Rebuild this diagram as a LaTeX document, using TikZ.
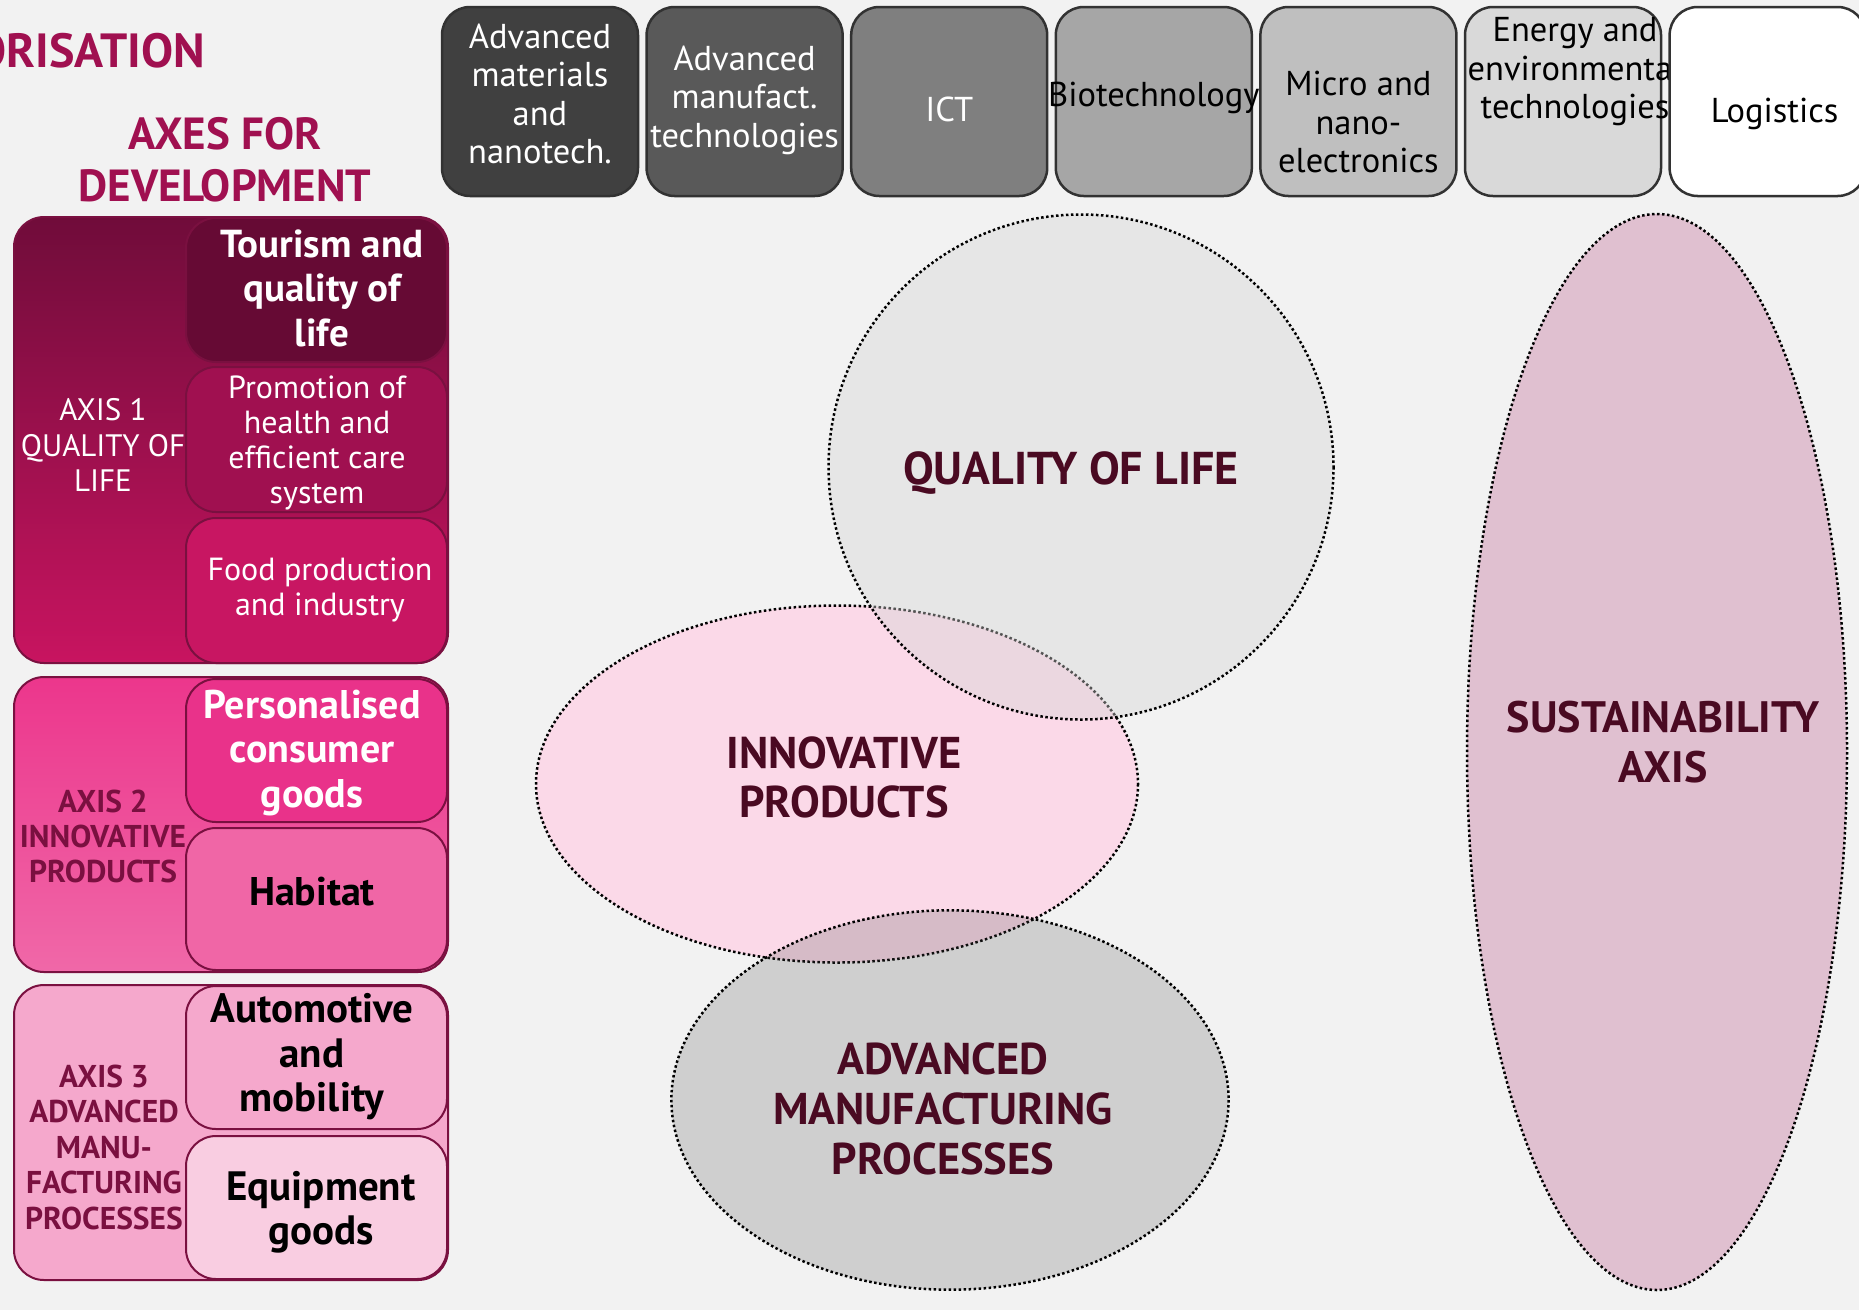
\documentclass[tikz,border=0pt]{standalone}
\usepackage{fontspec}
\setmainfont{PT Sans}

\definecolor{paper}{RGB}{242,242,242}
\definecolor{titleink}{RGB}{160,16,80}
\definecolor{blobink}{RGB}{74,10,34}
\definecolor{techline}{RGB}{50,50,50}
\definecolor{axisline}{RGB}{122,16,64}
\definecolor{axisink}{RGB}{122,16,64}
\definecolor{techA}{RGB}{64,64,64}
\definecolor{techB}{RGB}{89,89,89}
\definecolor{techC}{RGB}{127,127,127}
\definecolor{techD}{RGB}{166,166,166}
\definecolor{techE}{RGB}{191,191,191}
\definecolor{techF}{RGB}{217,217,217}
\definecolor{techG}{RGB}{255,255,255}
\definecolor{tourism}{RGB}{102,10,52}
\definecolor{health}{RGB}{160,16,80}
\definecolor{food}{RGB}{200,22,98}
\definecolor{persona}{RGB}{233,50,138}
\definecolor{habitat}{RGB}{240,102,166}
\definecolor{automot}{RGB}{245,168,204}
\definecolor{equip}{RGB}{249,205,225}
\definecolor{innovfill}{RGB}{251,217,232}
\definecolor{sustfill}{RGB}{224,192,208}

\tikzset{
  techbox/.style={draw=techline, line width=2.5pt, rounded corners=28pt, minimum width=196pt, minimum height=189pt, inner sep=0pt},
  techtext/.style={align=center, inner sep=0pt, font=\fontsize{34.5}{38.5}\selectfont},
  axisbox/.style={draw=axisline, line width=2pt, rounded corners=30pt, minimum width=434pt, inner sep=0pt},
  fieldbox/.style={draw=axisline, line width=2pt, rounded corners=30pt, minimum width=261pt, inner sep=0pt},
  axistext/.style={align=center, inner sep=0pt, font=\fontsize{31}{35.5}\selectfont},
  blob/.style={draw=black, line width=2.5pt, dash pattern=on 2.5pt off 2.5pt},
  blobtext/.style={align=center, inner sep=0pt, text=blobink, font=\bfseries\fontsize{44}{50}\selectfont},
}

\begin{document}
\begin{tikzpicture}[x=1pt,y=1pt,yscale=-1]
    \clip (0,0) rectangle (1859,1310);
    \useasboundingbox (0,0) rectangle (1859,1310);
    \fill [paper] (0,0) rectangle (1859,1310);

    % Title
    \node (title) [anchor=base east, inner sep=0pt, text=titleink, font=\bfseries\fontsize{48}{56}\selectfont] at (205,67) {ORISATION};
    \node (axes) [align=center, inner sep=0pt, text=titleink, font=\bfseries\fontsize{45}{52}\selectfont] at (225,160) {AXES FOR\\DEVELOPMENT};

    %Top row: technologies
    \foreach \i/\shade/\ink/\tx/\ty/\words in {
        0/techA/white/0/94/{Advanced\\materials\\and\\nanotech.},
        1/techB/white/0/100/{Advanced\\manufact.\\technologies},
        2/techC/white/0/109/{ICT},
        3/techD/black/0/98/{Biotechnology},
        4/techE/black/0/122/{Micro and\\nano-\\electronics},
        5/techF/black/12/72/{Energy and\\environmental\\technologies},
        6/techG/black/7/114/{Logistics}} {
      \node (tech\i) [techbox, fill=\shade] at (540+\i*204.6,101.5) {};
      \node (techtxt\i) [techtext, text=\ink] at (540+\i*204.6+\tx,\ty) {\words};
    }

    %Axis 1
    \node (axis1) [axisbox, minimum height=446pt, top color={rgb,255:red,112;green,12;blue,58}, bottom color={rgb,255:red,200;green,20;blue,96}] at (231,440) {};
    \node (tour) [fieldbox, fill=tourism, minimum height=144pt] at (316.5,290) {};
    \node (heal) [fieldbox, fill=health, minimum height=145pt] at (316.5,439.5) {};
    \node (food) [fieldbox, fill=food, minimum height=145pt] at (316.5,590.5) {};
    \node (axis1txt) [axistext, text=white] at (103,445) {AXIS 1\\QUALITY OF\\LIFE};
    \node (tourtxt) [align=center, inner sep=0pt, text=white, font=\bfseries\fontsize{39}{44.5}\selectfont] at (322,288) {Tourism and\\quality of\\life};
    \node (healtxt) [align=center, inner sep=0pt, text=white, font=\fontsize{32}{35}\selectfont] at (317,443) {Promotion of\\health and\\efficient care\\system};
    \node (foodtxt) [align=center, inner sep=0pt, text=white, font=\fontsize{32}{35}\selectfont] at (320,590) {Food production\\and industry};

    %Axis 2
    \node (axis2) [axisbox, minimum height=295pt, top color={rgb,255:red,236;green,54;blue,140}, bottom color={rgb,255:red,240;green,104;blue,168}] at (231,824.5) {};
    \node (pers) [fieldbox, fill=persona, minimum height=143pt] at (316.5,750.5) {};
    \node (habi) [fieldbox, fill=habitat, minimum height=142pt] at (316.5,899) {};
    \node (axis2txt) [axistext, text=axisink, font=\bfseries\fontsize{31.5}{35}\selectfont] at (103,836) {AXIS 2\\INNOVATIVE\\PRODUCTS};
    \node (perstxt) [align=center, inner sep=0pt, text=white, font=\bfseries\fontsize{40}{44.5}\selectfont] at (312,753) {Personalised\\consumer\\goods};
    \node (habitxt) [inner sep=0pt, font=\bfseries\fontsize{40}{44}\selectfont] at (312,892) {Habitat};

    %Axis 3
    \node (axis3) [axisbox, minimum height=295pt, fill=automot] at (231,1132.5) {};
    \node (auto) [fieldbox, fill=automot, minimum height=143pt] at (316.5,1057.5) {};
    \node (equi) [fieldbox, fill=equip, minimum height=143pt] at (316.5,1207.5) {};
    \node (axis3txt) [axistext, text=axisink, font=\bfseries\fontsize{31.5}{35.5}\selectfont] at (104,1147) {AXIS 3\\ADVANCED\\MANU-\\FACTURING\\PROCESSES};
    \node (autotxt) [align=center, inner sep=0pt, font=\bfseries\fontsize{41}{44.5}\selectfont] at (312,1057) {Automotive\\and\\mobility};
    \node (equitxt) [align=center, inner sep=0pt, font=\bfseries\fontsize{41}{44}\selectfont] at (321,1212) {Equipment\\goods};

    %Ellipses
    \draw [blob, fill=sustfill] (1657,752) ellipse [x radius=190, y radius=538];
    \draw [blob, fill=innovfill] (837,784) ellipse [x radius=301, y radius=178.5];
    \draw [blob, fill={rgb,255:red,70;green,70;blue,70}, fill opacity=0.2] (950,1100) ellipse [x radius=278.6, y radius=189.7];
    \draw [blob, fill={rgb,255:red,212;green,212;blue,212}, fill opacity=0.4] (1081,467) circle [radius=252.5];

    % Text Node
    \node (qol) [blobtext, font=\bfseries\fontsize{46}{50}\selectfont] at (1071,473) {QUALITY OF LIFE};
    \node (innov) [blobtext, font=\bfseries\fontsize{44.5}{49}\selectfont] at (844,777) {INNOVATIVE\\PRODUCTS};
    \node (advm) [blobtext, font=\bfseries\fontsize{44.5}{50}\selectfont] at (943,1109) {ADVANCED\\MANUFACTURING\\PROCESSES};
    \node (sust) [blobtext] at (1663,742) {SUSTAINABILITY\\AXIS};

\end{tikzpicture}
\end{document}
